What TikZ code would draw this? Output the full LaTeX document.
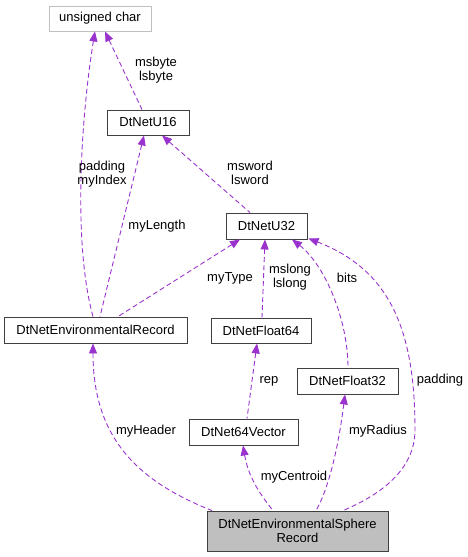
\documentclass[tikz,border=0pt]{standalone}
\usepackage{fontspec}
\setmainfont{Liberation Sans}
\usetikzlibrary{arrows.meta,calc}
\definecolor{edgec}{HTML}{9A32CD}
\definecolor{greyb}{HTML}{BFBFBF}
\tikzset{
  cls/.style={draw=black!75, line width=0.9pt, fill=white, rectangle, inner sep=0pt, font=\fontsize{13}{15}\selectfont, align=center},
  rel/.style={draw=edgec, line width=0.9pt, dash pattern=on 5pt off 3pt, {Triangle[length=10pt,width=8pt,fill=edgec]}-},
  lbl/.style={font=\fontsize{13}{14}\selectfont, align=center, inner sep=0pt}
}
\begin{document}
\begin{tikzpicture}[x=1pt,y=-1pt]
\useasboundingbox (0,0) rectangle (468,557);
\node[cls, draw=greyb, minimum width=102pt, minimum height=25pt] (uchar) at (100,18.5) {unsigned char};
\node[cls, minimum width=82pt, minimum height=25pt] (u16) at (148,122.5) {DtNetU16};
\node[cls, minimum width=81pt, minimum height=26pt] (u32) at (266.5,226) {DtNetU32};
\node[cls, minimum width=183pt, minimum height=26pt] (envrec) at (95.5,330) {DtNetEnvironmentalRecord};
\node[cls, minimum width=100pt, minimum height=25pt] (f64) at (261,330.5) {DtNetFloat64};
\node[cls, minimum width=101pt, minimum height=26pt] (f32) at (347.5,381) {DtNetFloat32};
\node[cls, minimum width=109pt, minimum height=26pt] (v64) at (243.5,432) {DtNet64Vector};
\node[cls, fill=greyb, minimum width=181pt, minimum height=40pt] (sphere) at (297.5,531) {DtNetEnvironmentalSphere\\[-1pt]Record};

% edges
\draw[rel] ([xshift=5pt]uchar.south) -- ([xshift=-6pt]u16.north);
\draw[rel] ([xshift=-5pt]uchar.south) .. controls (82,110) and (72,240) .. ([xshift=-2.5pt]envrec.north);
\draw[rel] ([xshift=-4pt]u16.south) -- ([xshift=4.5pt]envrec.north);
\draw[rel] ([xshift=14pt]u16.south) -- ([xshift=-16.5pt]u32.north);
\draw[rel] ([xshift=-26.5pt]u32.south) -- ([xshift=22.5pt]envrec.north);
\draw[rel] ([xshift=-1.5pt]u32.south) -- ([xshift=1pt]f64.north);
\draw[rel] ([xshift=25.5pt]u32.south) .. controls (325,265) and (348,320) .. ([xshift=0.5pt]f32.north);
\draw[rel] ([xshift=1pt,yshift=1pt]u32.south east) .. controls (390,270) and (415,330) .. (415,430) .. controls (415,470) and (380,495) .. ([xshift=45.5pt]sphere.north);
\draw[rel] ([xshift=-4pt]f64.south) -- ([xshift=3.5pt]v64.north);
\draw[rel] ([xshift=-2.5pt]envrec.south) .. controls (93,440) and (140,482) .. ([xshift=-85.5pt]sphere.north);
\draw[rel] ([xshift=-0.5pt]v64.south) .. controls (248,475) and (258,492) .. ([xshift=-24.5pt]sphere.north);
\draw[rel] ([xshift=-2.5pt]f32.south) .. controls (338,450) and (328,490) .. ([xshift=18.5pt]sphere.north);

% labels
\node[lbl] (l1) at (156,70) {msbyte\\lsbyte};
\node[lbl] (l2) at (102,174) {padding\\myIndex};
\node[lbl] (l3) at (157,226) {myLength};
\node[lbl] (l4) at (250,173) {msword\\lsword};
\node[lbl] (l5) at (230,278) {myType};
\node[lbl] (l6) at (290,277) {mslong\\lslong};
\node[lbl] (l7) at (347,278) {bits};
\node[lbl] (l8) at (440,380) {padding};
\node[lbl] (l9) at (269,381) {rep};
\node[lbl] (l10) at (378,431) {myRadius};
\node[lbl] (l11) at (294,477) {myCentroid};
\node[lbl] (l12) at (146,431) {myHeader};
\end{tikzpicture}
\end{document}
